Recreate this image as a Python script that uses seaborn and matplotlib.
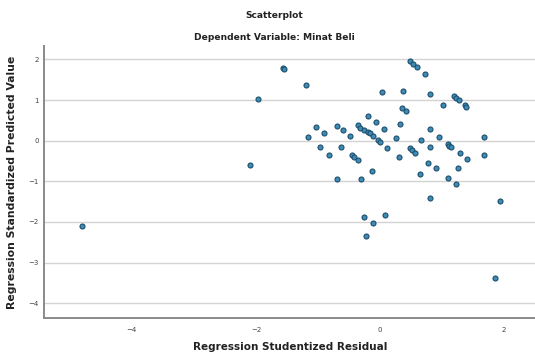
import numpy as np
import pandas as pd
import matplotlib.pyplot as plt
import seaborn as sns

# Studentized residuals (x) and standardized predicted values (y)
residual = [-1.57, -1.55, -1.19, -1.97, -2.09, 0.48, 0.53, 0.60, 0.73, 0.04,
            0.37, 0.80, 1.20, 1.23, 1.27, 1.37, 1.39, 1.01, 0.36, 0.42,
            -0.20, -0.06, 0.33, -1.03, -0.70, -0.60, -0.36, -0.32, -0.26, -0.19,
            -0.16, -0.12, 0.07, -0.90, -0.49, -1.16, -0.03, 0.00, 0.26, 0.80,
            0.67, 0.96, 1.09, 1.12, 1.15, 1.67, -0.97, -0.62, 0.12, 0.48,
            0.51, 0.57, 0.80, -0.82, -0.45, -0.42, -0.36, 0.31, 1.29, 1.41,
            1.67, 0.77, 0.90, 1.26, -0.13, 0.65, -0.69, -0.31, 1.09, 1.22,
            0.81, 1.93, -0.25, 0.08, -0.12, -0.23, 1.85, -4.80]
predicted = [1.80, 1.76, 1.38, 1.03, -0.60, 1.96, 1.89, 1.82, 1.65, 1.19,
             1.22, 1.15, 1.09, 1.04, 1.00, 0.88, 0.84, 0.87, 0.81, 0.74,
             0.62, 0.46, 0.42, 0.34, 0.36, 0.27, 0.38, 0.32, 0.27, 0.21,
             0.19, 0.11, 0.30, 0.19, 0.12, 0.08, 0.01, -0.04, 0.07, 0.28,
             0.01, 0.08, -0.07, -0.12, -0.15, 0.08, -0.16, -0.16, -0.19, -0.19,
             -0.22, -0.30, -0.15, -0.34, -0.35, -0.40, -0.47, -0.41, -0.31, -0.45,
             -0.34, -0.54, -0.68, -0.68, -0.74, -0.81, -0.93, -0.95, -0.92, -1.07,
             -1.40, -1.48, -1.88, -1.84, -2.03, -2.34, -3.38, -2.11]

df = pd.DataFrame({'Residual': residual, 'Predicted': predicted})

sns.set_style('white')
fig = plt.figure(figsize=(5.35, 3.54), dpi=100)
ax = fig.add_axes([0.083, 0.101, 0.917, 0.770])

sns.scatterplot(data=df, x='Residual', y='Predicted', ax=ax, s=13,
                color='#3f8bb3', edgecolor='#1d4f6e', linewidth=0.8, zorder=3)

ax.set_xlim(-5.41, 2.5)
ax.set_ylim(-4.37, 2.34)
ax.set_xticks([-4, -2, 0, 2])
ax.set_yticks([-4, -3, -2, -1, 0, 1, 2])
ax.tick_params(axis='both', length=0, labelsize=5, labelcolor='#444444')
ax.tick_params(axis='y', pad=4)
ax.tick_params(axis='x', pad=6)
ax.yaxis.grid(True, color='#d3d3d3', linewidth=1.0)
ax.xaxis.grid(False)

for side in ['top', 'right']:
    ax.spines[side].set_visible(False)
for side in ['left', 'bottom']:
    ax.spines[side].set_color('#8a8a8a')
    ax.spines[side].set_linewidth(1.4)

ax.set_xlabel('Regression Studentized Residual', fontsize=7.5, fontweight='bold',
              color='#222222', labelpad=7)
ax.set_ylabel('Regression Standardized Predicted Value', fontsize=7.8, fontweight='bold',
              color='#222222', labelpad=8)

fig.text(0.513, 0.955, 'Scatterplot', ha='center', va='center', fontsize=6.6,
         fontweight='bold', color='#222222')
fig.text(0.513, 0.893, 'Dependent Variable: Minat Beli', ha='center', va='center',
         fontsize=6.6, fontweight='bold', color='#222222')

fig.savefig('out.png', dpi=100)
